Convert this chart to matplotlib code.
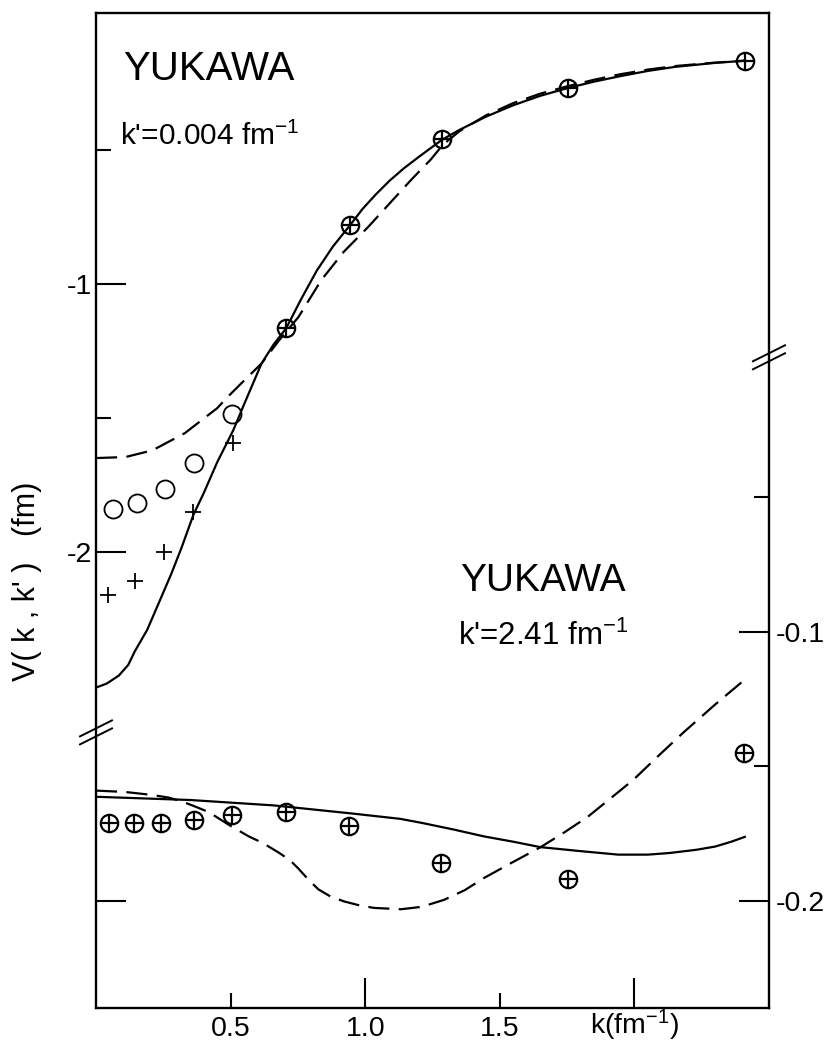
import numpy as np
import matplotlib
matplotlib.use("Agg")
import matplotlib.pyplot as plt
import matplotlib.transforms as mtransforms
from matplotlib.ticker import FixedLocator, FixedFormatter

plt.rcParams['font.family'] = ['Liberation Sans', 'DejaVu Sans']
plt.rcParams['mathtext.fontset'] = 'custom'
plt.rcParams['mathtext.rm'] = 'Liberation Sans'
plt.rcParams['mathtext.it'] = 'Liberation Sans:italic'
plt.rcParams['mathtext.bf'] = 'Liberation Sans:bold'
plt.rcParams['axes.unicode_minus'] = False

# ---------------- data: upper panel, k' = 0.004 fm^-1 (left scale) ----------------
up_solid_k = [0.0, 0.04, 0.085, 0.12, 0.144, 0.19, 0.233, 0.28, 0.319, 0.362, 0.40, 0.45,
              0.51, 0.552, 0.615, 0.66, 0.707, 0.76, 0.82, 0.88, 0.944, 0.99, 1.04, 1.09, 1.144,
              1.2, 1.285, 1.35, 1.45, 1.55, 1.65, 1.752, 1.85, 1.95, 2.05, 2.15, 2.30, 2.41]
up_solid_v = [-2.505, -2.49, -2.46, -2.42, -2.37, -2.29, -2.19, -2.08, -1.98, -1.86, -1.78, -1.665,
              -1.545, -1.444, -1.296, -1.225, -1.164, -1.06, -0.95, -0.86, -0.78, -0.72, -0.665, -0.615, -0.568,
              -0.525, -0.462, -0.425, -0.375, -0.333, -0.298, -0.269, -0.245, -0.224, -0.205, -0.19, -0.175, -0.167]

up_dash_k = [0.0, 0.11, 0.21, 0.33, 0.45, 0.49, 0.54, 0.615, 0.68, 0.752, 0.837, 0.92, 1.011,
             1.09, 1.17, 1.244, 1.288, 1.35, 1.45, 1.55, 1.65, 1.752, 1.85, 1.95, 2.05, 2.15, 2.30, 2.41]
up_dash_v = [-1.649, -1.645, -1.62, -1.556, -1.463, -1.42, -1.37, -1.296, -1.21, -1.123, -0.985, -0.88, -0.787,
             -0.70, -0.612, -0.535, -0.481, -0.43, -0.37, -0.325, -0.29, -0.262, -0.238, -0.217, -0.2, -0.187,
             -0.174, -0.167]

up_oplus_k = [0.706, 0.944, 1.287, 1.752, 2.409]
up_oplus_v = [-1.164, -0.78, -0.46, -0.269, -0.168]

up_circ_k = [0.063, 0.152, 0.257, 0.364, 0.506]
up_circ_v = [-1.840, -1.817, -1.765, -1.668, -1.485]

up_plus_k = [0.044, 0.146, 0.251, 0.362, 0.510]
up_plus_v = [-2.160, -2.108, -2.0, -1.851, -1.593]

# ---------------- data: lower panel, k' = 2.41 fm^-1 (right scale) ----------------
lo_solid_k = [0.0, 0.35, 0.66, 0.95, 1.13, 1.21, 1.33, 1.44, 1.55, 1.65, 1.80, 1.94, 2.05, 2.13, 2.23, 2.30, 2.36, 2.41]
lo_solid_v = [-0.1613, -0.1625, -0.1645, -0.1675, -0.1695, -0.171, -0.1735, -0.176, -0.178, -0.180, -0.1815, -0.1828,
              -0.1828, -0.1822, -0.181, -0.1798, -0.178, -0.1762]

lo_dash_k = [0.0, 0.107, 0.207, 0.27, 0.319, 0.37, 0.419, 0.493, 0.567, 0.62, 0.678, 0.72, 0.752, 0.79, 0.826,
             0.87, 0.922, 0.98, 1.033, 1.133, 1.21, 1.293, 1.37, 1.441, 1.55, 1.652, 1.74, 1.826, 1.91, 1.996,
             2.09, 2.181, 2.30, 2.419]
lo_dash_v = [-0.159, -0.1595, -0.1606, -0.1616, -0.163, -0.165, -0.167, -0.1717, -0.176, -0.1785, -0.182, -0.1848,
             -0.188, -0.1922, -0.1957, -0.1983, -0.2002, -0.2017, -0.2026, -0.2031, -0.2022, -0.1996, -0.196,
             -0.1915, -0.1855, -0.180, -0.1745, -0.1688, -0.162, -0.155, -0.146, -0.1375, -0.127, -0.117]

lo_oplus_k = [0.048, 0.141, 0.241, 0.363, 0.504, 0.704, 0.941, 1.281, 1.752, 2.407]
lo_oplus_v = [-0.171, -0.171, -0.171, -0.170, -0.168, -0.167, -0.172, -0.186, -0.192, -0.145]

# tick labels
x_major = [1.0, 2.0]
x_major_labels = ["1.0", ""]
x_minor = [0.5, 1.5]
x_minor_labels = ["0.5", "1.5"]
x_axis_title = r"k(fm$^{-1}$)"
yl_major = [-1.0, -2.0]
yl_major_labels = ["-1", "-2"]
yl_minor = [-0.5, -1.5]
yr_major = [-0.1, -0.2]
yr_major_labels = ["-0.1", "-0.2"]
yr_minor = [-0.05, -0.15]

# ---------------- figure ----------------
W, H = 838, 1044
fig = plt.figure(figsize=(W / 100, H / 100), dpi=100)
ax = fig.add_axes([96 / W, 36 / H, 673 / W, 995 / H])
ax2 = ax.twinx()
ax3 = ax.twinx()

ax.set_xlim(0.0, 2.5)
ax.set_ylim(-3.70, 0.011)
ax2.set_ylim(-0.2398, 0.130)
ax3.set_ylim(-0.2398, 0.130)

lw = 1.6
dash = (9.5, 4.2)
mk = dict(ls='none', mec='black')
# upper curves
ax.plot(up_solid_k, up_solid_v, color='black', lw=lw)
ax.plot(up_dash_k, up_dash_v, color='black', lw=lw, dashes=dash)
ax.plot(up_oplus_k, up_oplus_v, marker='o', ms=12.5, mfc='none', mew=1.6, **mk)
ax.plot(up_oplus_k, up_oplus_v, marker='+', ms=12.5, mew=1.6, **mk)
ax.plot(up_circ_k, up_circ_v, marker='o', ms=13, mfc='none', mew=1.3, **mk)
ax.plot(up_plus_k, up_plus_v, marker='+', ms=11.5, mew=1.3, **mk)

# lower curves
ax2.plot(lo_solid_k, lo_solid_v, color='black', lw=lw)
ax2.plot(lo_dash_k, lo_dash_v, color='black', lw=lw, dashes=dash)
ax2.plot(lo_oplus_k, lo_oplus_v, marker='o', ms=12.5, mfc='none', mew=1.6, **mk)
ax2.plot(lo_oplus_k, lo_oplus_v, marker='+', ms=12.5, mew=1.6, **mk)

# ticks
tick_fs = 20.5
ax.xaxis.set_major_locator(FixedLocator(x_major))
ax.xaxis.set_major_formatter(FixedFormatter(x_major_labels))
ax.xaxis.set_minor_locator(FixedLocator(x_minor))
ax.xaxis.set_minor_formatter(FixedFormatter(x_minor_labels))
ax.yaxis.set_major_locator(FixedLocator(yl_major))
ax.yaxis.set_major_formatter(FixedFormatter(yl_major_labels))
ax.yaxis.set_minor_locator(FixedLocator(yl_minor))
ax.yaxis.set_minor_formatter(FixedFormatter(["", ""]))
ax.tick_params(axis='both', which='major', direction='in', length=21.5, width=1.5,
               labelsize=tick_fs, top=False, right=False)
ax.tick_params(axis='both', which='minor', direction='in', length=11, width=1.5,
               labelsize=tick_fs, top=False, right=False)
ax.tick_params(axis='x', which='both', pad=6)
ax.tick_params(axis='y', which='both', pad=3)

ax2.yaxis.set_major_locator(FixedLocator(yr_major))
ax2.yaxis.set_major_formatter(FixedFormatter(yr_major_labels))
ax2.yaxis.set_minor_locator(FixedLocator(yr_minor))
ax2.yaxis.set_minor_formatter(FixedFormatter(["", ""]))
ax2.tick_params(axis='y', which='major', direction='in', length=21.5, width=1.5,
                labelsize=tick_fs, pad=5, left=False, right=True)
ax2.tick_params(axis='y', which='minor', direction='in', length=11, width=1.5,
                left=False, right=True)

ax3.yaxis.set_ticks_position('left')
ax3.yaxis.set_major_locator(FixedLocator([-0.2]))
ax3.yaxis.set_major_formatter(FixedFormatter([""]))
ax3.yaxis.set_minor_locator(FixedLocator([]))
ax3.tick_params(axis='y', which='major', direction='in', length=21.5, width=1.5, left=True, right=False)
for s in ax3.spines.values():
    s.set_visible(False)
for s in ax2.spines.values():
    s.set_visible(False)

for s in ax.spines.values():
    s.set_linewidth(1.7)

# x-axis title placed at the k = 2.0 tick
trans = mtransforms.blended_transform_factory(ax.transData, ax.transAxes)
ax.text(x_major[1], -0.0265, x_axis_title, transform=trans, fontsize=tick_fs,
        ha='center', va='baseline')

# y label
ax.set_ylabel("V( k , k' )   (fm)", fontsize=22)
ax.yaxis.set_label_coords(-0.080, 0.429)

# annotations
ax.text(0.040, 0.933, "YUKAWA", transform=ax.transAxes, fontsize=29, ha='left', va='baseline')
ax.text(0.036, 0.867, r"k'=0.004 fm$^{-1}$", transform=ax.transAxes, fontsize=21.5,
        ha='left', va='baseline')
ax.text(0.541, 0.419, "YUKAWA", transform=ax.transAxes, fontsize=28, ha='left', va='baseline')
ax.text(0.538, 0.365, r"k'=2.41 fm$^{-1}$", transform=ax.transAxes, fontsize=22.5,
        ha='left', va='baseline')

# axis break marks
hw, hh, gap = 16 / 673, 8 / 995, 4 / 995
for (cx, cy) in [(0.0, 0.277), (1.0, 0.654)]:
    for off in (-gap, gap):
        ax.plot([cx - hw, cx + hw], [cy - hh + off, cy + hh + off], color='black', lw=1.4,
                transform=ax.transAxes, clip_on=False)

fig.savefig("out.png", dpi=100)
